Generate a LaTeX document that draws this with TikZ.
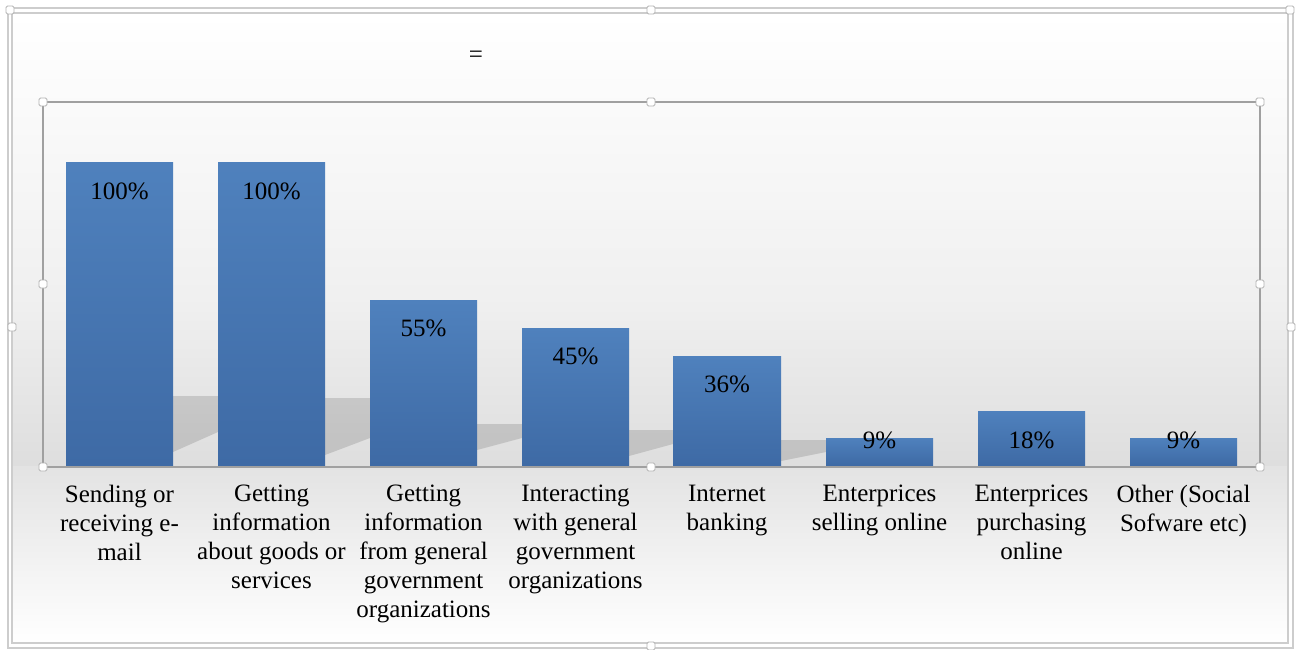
\documentclass[tikz,border=0pt]{standalone}
\usepackage{fontspec}
\setmainfont{Liberation Serif}
\usetikzlibrary{positioning}
\definecolor{barblue}{RGB}{79,129,189}
\definecolor{bardark}{RGB}{62,106,165}
\definecolor{framegray}{RGB}{205,205,205}
\definecolor{axisgray}{RGB}{160,160,160}
\tikzset{
	bar/.style={top color=barblue, bottom color=bardark, draw=none},
	pct/.style={font=\fontsize{25}{29}\selectfont, inner sep=0pt},
	cat/.style={font=\fontsize{25}{29}\selectfont, align=center, anchor=north, inner sep=0pt},
	handle/.style={draw=axisgray!80, fill=white, rounded corners=1.5pt, minimum size=8pt, inner sep=0pt, line width=0.9pt},
	barshadow/.style={fill=black, fill opacity=0.13, draw=none}
}

\begin{document}
\begin{tikzpicture}[x=1pt,y=-1pt]
		\useasboundingbox (0,0) rectangle (1296,650);
		\fill[white] (0,0) rectangle (1296,650);
		%background%
		\shade[top color=white, bottom color=black!6] (12,13) rectangle (1288,300);
		\shade[top color=black!6, bottom color=black!13] (12,300) rectangle (1288,466);
		\shade[top color=black!11, bottom color=white] (12,466) rectangle (1288,643);
		%outer frame%
		\draw[framegray, line width=1.3pt] (8,8) rectangle (1293,648);
		\draw[framegray, line width=1.3pt] (12,13) rectangle (1288,643);
		\node[pct] (eq) at (476,57) {=};
		%shadows%
		\fill[barshadow] (173,396) -- (218,396) -- (218,432) -- (173,452) -- cycle;
		\fill[barshadow] (325,398) -- (370,398) -- (370,438) -- (325,455) -- cycle;
		\fill[barshadow] (477,424) -- (522,424) -- (522,438) -- (477,450) -- cycle;
		\fill[barshadow] (629,430) -- (673,430) -- (673,444) -- (629,456) -- cycle;
		\fill[barshadow] (781,440) -- (826,440) -- (826,452) -- (781,461) -- cycle;
		%plot area%
		\draw[axisgray, line width=1.2pt] (43,102) rectangle (1260,467);
		%bars%
		\shade[bar] (66,163) rectangle (173,465);
		\shade[bar] (218,163) rectangle (325,465);
		\shade[bar] (370,300) rectangle (477,465);
		\shade[bar] (522,328) rectangle (629,465);
		\shade[bar] (673,356) rectangle (781,465);
		\shade[bar] (826,438) rectangle (933,465);
		\shade[bar] (978,411) rectangle (1085,465);
		\shade[bar] (1130,438) rectangle (1237,465);
		\node[pct] (p1) at (119.5,191) {100\%};
		\node[pct] (p2) at (271.5,191) {100\%};
		\node[pct] (p3) at (423.5,328) {55\%};
		\node[pct] (p4) at (575.5,356) {45\%};
		\node[pct] (p5) at (727,384) {36\%};
		\node[pct] (p6) at (879.5,440) {9\%};
		\node[pct] (p7) at (1031.5,440) {18\%};
		\node[pct] (p8) at (1183.5,440) {9\%};
		%categories%
		\node[cat] (c1) at (119.5,485) {Sending or\\receiving e-\\mail};
		\node[cat] (c2) at (271.5,485) {Getting\\information\\about goods or\\services};
		\node[cat] (c3) at (423.5,485) {Getting\\information\\from general\\government\\organizations};
		\node[cat] (c4) at (575.5,485) {Interacting\\with general\\government\\organizations};
		\node[cat] (c5) at (727,485) {Internet\\banking};
		\node[cat] (c6) at (879.5,485) {Enterprices\\selling online};
		\node[cat] (c7) at (1031.5,485) {Enterprices\\purchasing\\online};
		\node[cat] (c8) at (1183.5,485) {Other (Social\\Sofware etc)};
		%handles%
		\node[handle] (h1) at (43,102) {};
		\node[handle] (h2) at (651,102) {};
		\node[handle] (h3) at (1260,102) {};
		\node[handle] (h4) at (43,284) {};
		\node[handle] (h5) at (1260,284) {};
		\node[handle] (h6) at (43,467) {};
		\node[handle] (h7) at (651,467) {};
		\node[handle] (h8) at (1260,467) {};
		\node[handle] (o1) at (10,10) {};
		\node[handle] (o2) at (651,10) {};
		\node[handle] (o3) at (1290,10) {};
		\node[handle] (o4) at (12,327) {};
		\node[handle] (o5) at (1291,327) {};
		\node[handle] (o6) at (651,646) {};
	\end{tikzpicture}
\end{document}
